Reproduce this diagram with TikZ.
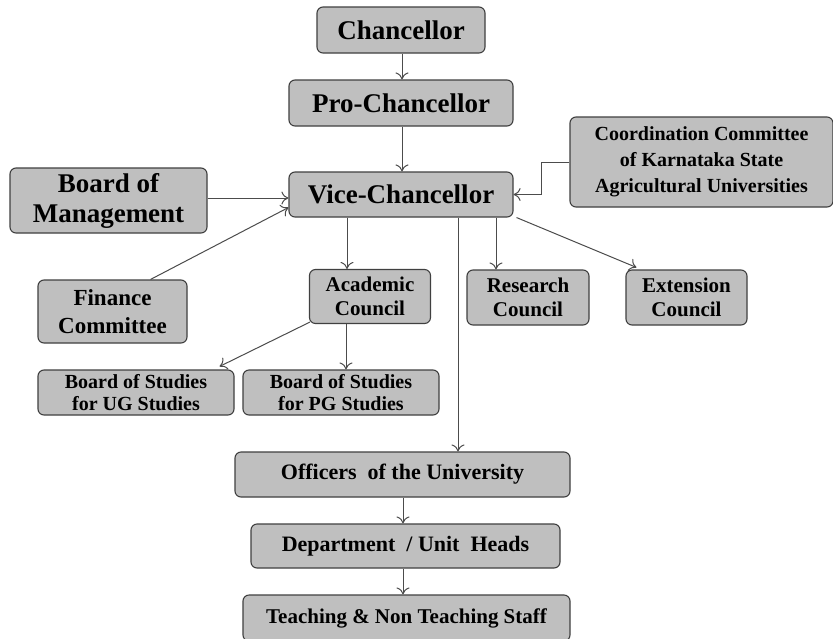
\documentclass[tikz,border=0pt]{standalone}
\usepackage{fontspec}
\setmainfont{Liberation Serif}
\usetikzlibrary{arrows.meta,calc}
\tikzset{
  box/.style={draw=black!75, line width=1.1pt, fill=black!25, rounded corners=6pt,
    inner sep=0pt, align=center, text=black, font=\bfseries},
  arr/.style={draw=black!70, line width=1pt, -{To[length=7pt,width=13pt,line width=1pt]}},
  big/.style={font=\bfseries\fontsize{27}{30}\selectfont},
  mid/.style={font=\bfseries\fontsize{22}{25}\selectfont},
}
\begin{document}
\begin{tikzpicture}[x=1pt,y=-1pt]
\useasboundingbox (0,0) rectangle (833,638);
\fill[white] (0,0) rectangle (833,638);

\node[box,big,minimum width=168,minimum height=46] (chan) at (401,30) {Chancellor};
\node[box,big,minimum width=224,minimum height=46] (pro) at (401,103) {Pro-Chancellor};
\node[box,big,minimum width=224,minimum height=45] (vice) at (401,194.5) {Vice-Chancellor};
\node[box,big,minimum width=197,minimum height=65] (bom) at (108.5,200.5) {Board of\\Management};
\node[box,font=\bfseries\fontsize{20}{26}\selectfont,minimum width=263,minimum height=90] (coord) at (701.5,162) {Coordination Committee\\of Karnataka State\\Agricultural Universities};
\node[box,font=\bfseries\fontsize{23}{28}\selectfont,minimum width=149,minimum height=63] (fin) at (112.5,311.5) {Finance\\Committee};
\node[box,font=\bfseries\fontsize{21}{24}\selectfont,minimum width=121,minimum height=54] (acad) at (370,296.5) {Academic\\Council};
\node[box,font=\bfseries\fontsize{21}{24}\selectfont,minimum width=122,minimum height=55] (res) at (528,297.5) {Research\\Council};
\node[box,font=\bfseries\fontsize{21}{24}\selectfont,minimum width=121,minimum height=55] (ext) at (686.5,297.5) {Extension\\Council};
\node[box,font=\bfseries\fontsize{20}{22}\selectfont,minimum width=196,minimum height=45] (ug) at (136,392.5) {Board of Studies\\for UG Studies};
\node[box,font=\bfseries\fontsize{20}{22}\selectfont,minimum width=196,minimum height=45] (pg) at (341,392.5) {Board of Studies\\for PG Studies};
\node[box,mid,minimum width=335,minimum height=45] (off) at (402.5,474.5) {Officers\ \ of the\ University};
\node[box,mid,minimum width=309,minimum height=44] (dept) at (405.5,546) {Department\ \ /\ Unit\ \ Heads};
\node[box,font=\bfseries\fontsize{21}{24}\selectfont,minimum width=327,minimum height=46] (staff) at (406.5,618) {Teaching \& Non Teaching Staff};

\draw[arr] (chan.south -| 402,0) -- (pro.north -| 402,0);
\draw[arr] (pro.south -| 402,0) -- (vice.north -| 402,0);
\draw[arr] (bom.east |- 0,198) -- (vice.west |- 0,198);
\draw[arr] ($(fin.north)+(38,0)$) -- ($(vice.west)+(0,13)$);
\draw[arr] (coord.west) -- ++(-28,0) |- (vice.east);
\draw[arr] (vice.south -| 347,0) -- (acad.north -| 347,0);
\draw[arr] (vice.south -| 496,0) -- (res.north -| 496,0);
\draw[arr] ($(vice.south east)+(3,0)$) -- ($(ext.north west)+(11,-2)$);
\draw[arr] (vice.south -| 458,0) -- (off.north -| 458,0);
\draw[arr] ($(acad.south west)+(1,-2)$) -- ($(ug.north east)+(-15,-3)$);
\draw[arr] (acad.south -| 346,0) -- (pg.north -| 346,0);
\draw[arr] (off.south -| 403,0) -- (dept.north -| 403,0);
\draw[arr] (dept.south -| 403,0) -- (staff.north -| 403,0);
\end{tikzpicture}
\end{document}
